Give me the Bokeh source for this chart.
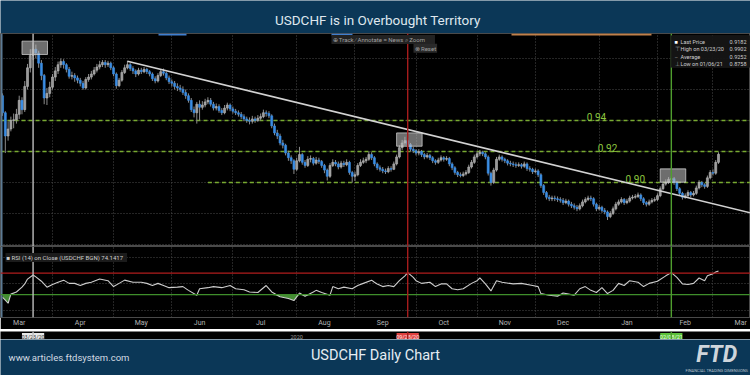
import numpy as np
import pandas as pd
from bokeh.plotting import figure
from bokeh.layouts import column
from bokeh.models import ColumnDataSource, FixedTicker, Grid, Span, Label, BoxAnnotation, Range1d
from bokeh.core.properties import value
from bokeh.embed import file_html
from bokeh.resources import INLINE

# ---------------- data ----------------
title_text = "USDCHF is in Overbought Territory"
footer_text = "USDCHF Daily Chart"
site_text = "www.articles.ftdsystem.com"
logo_text = "FTD"
logo_sub = "FINANCIAL TRADING DIMENSIONS"

start_date = "2020-03-06"
first_open = 0.9560
closes = [
    0.9450, 0.9300, 0.9345, 0.9400, 0.9405, 0.9440, 0.9530, 0.9470, 0.9620, 0.9740,
    0.9820, 0.9860, 0.9835, 0.9770, 0.9690, 0.9545, 0.9575, 0.9615, 0.9680, 0.9720,
    0.9760, 0.9780, 0.9760, 0.9730, 0.9685, 0.9690, 0.9675, 0.9660, 0.9640, 0.9610,
    0.9665, 0.9680, 0.9700, 0.9725, 0.9745, 0.9760, 0.9775, 0.9760, 0.9770, 0.9740,
    0.9700, 0.9625, 0.9660, 0.9710, 0.9740, 0.9760, 0.9735, 0.9720, 0.9700, 0.9725,
    0.9715, 0.9730, 0.9715, 0.9700, 0.9670, 0.9655, 0.9690, 0.9715, 0.9705, 0.9675,
    0.9650, 0.9640, 0.9620, 0.9610, 0.9600, 0.9580, 0.9560, 0.9530, 0.9470, 0.9450,
    0.9505, 0.9485, 0.9500, 0.9520, 0.9530, 0.9505, 0.9480, 0.9490, 0.9465, 0.9450,
    0.9480, 0.9500, 0.9475, 0.9460, 0.9450, 0.9440, 0.9425, 0.9410, 0.9400, 0.9395,
    0.9410, 0.9400, 0.9415, 0.9425, 0.9450, 0.9445, 0.9430, 0.9365, 0.9320, 0.9300,
    0.9255, 0.9240, 0.9190, 0.9160, 0.9140, 0.9085, 0.9140, 0.9180, 0.9130, 0.9110,
    0.9150, 0.9155, 0.9125, 0.9145, 0.9135, 0.9110, 0.9080, 0.9040, 0.9110, 0.9130,
    0.9120, 0.9100, 0.9125, 0.9115, 0.9130, 0.9065, 0.9040, 0.9050, 0.9110, 0.9130,
    0.9140, 0.9150, 0.9180, 0.9160, 0.9120, 0.9095, 0.9085, 0.9075, 0.9070, 0.9090,
    0.9085, 0.9120, 0.9165, 0.9225, 0.9255, 0.9270, 0.9245, 0.9215, 0.9205, 0.9190,
    0.9200, 0.9180, 0.9165, 0.9175, 0.9160, 0.9140, 0.9130, 0.9145, 0.9160, 0.9150,
    0.9155, 0.9120, 0.9095, 0.9065, 0.9050, 0.9045, 0.9055, 0.9065, 0.9100, 0.9130,
    0.9165, 0.9185, 0.9195, 0.9185, 0.9165, 0.9060, 0.9000, 0.9080, 0.9150, 0.9165,
    0.9150, 0.9140, 0.9125, 0.9120, 0.9115, 0.9110, 0.9115, 0.9105, 0.9120, 0.9090,
    0.9085, 0.9070, 0.9075, 0.9050, 0.8980, 0.8935, 0.8905, 0.8895, 0.8900, 0.8895,
    0.8890, 0.8885, 0.8870, 0.8880, 0.8860, 0.8850, 0.8840, 0.8830, 0.8850, 0.8875,
    0.8890, 0.8900, 0.8895, 0.8860, 0.8830, 0.8840, 0.8820, 0.8810, 0.8780, 0.8800,
    0.8830, 0.8860, 0.8875, 0.8890, 0.8870, 0.8880, 0.8900, 0.8905, 0.8910, 0.8920,
    0.8895, 0.8870, 0.8860, 0.8875, 0.8885, 0.8890, 0.8915, 0.8960, 0.8990, 0.9000,
    0.9020, 0.9025, 0.9000, 0.8960, 0.8930, 0.8905, 0.8915, 0.8935, 0.8920, 0.8930,
    0.8965, 0.9000, 0.8985, 0.8975, 0.9030, 0.9065, 0.9060, 0.9130, 0.9182,
]
highs = [
    0.9575, 0.9460, 0.9395, 0.9425, 0.9445, 0.9475, 0.9560, 0.9550, 0.9655, 0.9765,
    0.9860, 0.9902, 0.9890, 0.9850, 0.9790, 0.9700, 0.9610, 0.9650, 0.9700, 0.9745,
    0.9780, 0.9800, 0.9795, 0.9770, 0.9745, 0.9715, 0.9705, 0.9690, 0.9675, 0.9655,
    0.9680, 0.9700, 0.9720, 0.9745, 0.9765, 0.9785, 0.9790, 0.9790, 0.9785, 0.9780,
    0.9750, 0.9710, 0.9675, 0.9725, 0.9760, 0.9785, 0.9770, 0.9750, 0.9730, 0.9740,
    0.9740, 0.9745, 0.9740, 0.9725, 0.9710, 0.9685, 0.9705, 0.9730, 0.9735, 0.9715,
    0.9690, 0.9665, 0.9655, 0.9640, 0.9630, 0.9620, 0.9600, 0.9575, 0.9545, 0.9490,
    0.9520, 0.9530, 0.9525, 0.9540, 0.9550, 0.9545, 0.9520, 0.9510, 0.9505, 0.9480,
    0.9500, 0.9515, 0.9510, 0.9490, 0.9475, 0.9465, 0.9455, 0.9440, 0.9425, 0.9420,
    0.9430, 0.9425, 0.9435, 0.9445, 0.9470, 0.9465, 0.9460, 0.9440, 0.9380, 0.9340,
    0.9315, 0.9275, 0.9250, 0.9205, 0.9175, 0.9150, 0.9160, 0.9230, 0.9190, 0.9145,
    0.9170, 0.9175, 0.9165, 0.9165, 0.9160, 0.9145, 0.9120, 0.9090, 0.9125, 0.9150,
    0.9145, 0.9135, 0.9140, 0.9140, 0.9150, 0.9140, 0.9075, 0.9070, 0.9125, 0.9150,
    0.9160, 0.9165, 0.9200, 0.9195, 0.9170, 0.9130, 0.9110, 0.9100, 0.9090, 0.9105,
    0.9105, 0.9135, 0.9180, 0.9240, 0.9275, 0.9295, 0.9285, 0.9255, 0.9230, 0.9215,
    0.9215, 0.9210, 0.9190, 0.9190, 0.9185, 0.9170, 0.9150, 0.9160, 0.9175, 0.9170,
    0.9170, 0.9165, 0.9130, 0.9105, 0.9075, 0.9065, 0.9070, 0.9080, 0.9115, 0.9145,
    0.9180, 0.9200, 0.9210, 0.9205, 0.9195, 0.9175, 0.9070, 0.9095, 0.9165, 0.9180,
    0.9175, 0.9160, 0.9150, 0.9140, 0.9135, 0.9130, 0.9130, 0.9125, 0.9135, 0.9130,
    0.9105, 0.9095, 0.9090, 0.9085, 0.9060, 0.8990, 0.8945, 0.8920, 0.8915, 0.8915,
    0.8910, 0.8905, 0.8900, 0.8895, 0.8890, 0.8875, 0.8865, 0.8855, 0.8865, 0.8890,
    0.8905, 0.8915, 0.8915, 0.8905, 0.8870, 0.8855, 0.8850, 0.8835, 0.8820, 0.8815,
    0.8845, 0.8875, 0.8890, 0.8905, 0.8900, 0.8895, 0.8915, 0.8920, 0.8925, 0.8935,
    0.8930, 0.8905, 0.8880, 0.8890, 0.8900, 0.8905, 0.8930, 0.8975, 0.9005, 0.9020,
    0.9035, 0.9040, 0.9035, 0.9010, 0.8970, 0.8940, 0.8930, 0.8950, 0.8945, 0.8945,
    0.8980, 0.9015, 0.9010, 0.8995, 0.9045, 0.9080, 0.9085, 0.9145, 0.9195,
]
lows = [
    0.9430, 0.9190, 0.9270, 0.9330, 0.9350, 0.9380, 0.9410, 0.9440, 0.9455, 0.9600,
    0.9710, 0.9790, 0.9800, 0.9740, 0.9660, 0.9505, 0.9500, 0.9550, 0.9600, 0.9655,
    0.9700, 0.9740, 0.9735, 0.9710, 0.9670, 0.9665, 0.9650, 0.9640, 0.9620, 0.9598,
    0.9600, 0.9650, 0.9665, 0.9690, 0.9710, 0.9730, 0.9745, 0.9740, 0.9745, 0.9725,
    0.9685, 0.9605, 0.9615, 0.9650, 0.9700, 0.9730, 0.9720, 0.9700, 0.9680, 0.9690,
    0.9700, 0.9705, 0.9700, 0.9685, 0.9655, 0.9640, 0.9645, 0.9680, 0.9690, 0.9660,
    0.9635, 0.9620, 0.9600, 0.9590, 0.9585, 0.9565, 0.9540, 0.9515, 0.9455, 0.9420,
    0.9380, 0.9400, 0.9470, 0.9485, 0.9505, 0.9490, 0.9465, 0.9465, 0.9450, 0.9435,
    0.9440, 0.9465, 0.9460, 0.9445, 0.9435, 0.9425, 0.9410, 0.9395, 0.9385, 0.9375,
    0.9380, 0.9385, 0.9390, 0.9400, 0.9415, 0.9425, 0.9415, 0.9350, 0.9305, 0.9280,
    0.9240, 0.9220, 0.9175, 0.9140, 0.9120, 0.9055, 0.9075, 0.9130, 0.9115, 0.9095,
    0.9100, 0.9130, 0.9110, 0.9115, 0.9120, 0.9095, 0.9060, 0.9013, 0.9030, 0.9100,
    0.9105, 0.9085, 0.9090, 0.9100, 0.9105, 0.9050, 0.9000, 0.9010, 0.9040, 0.9100,
    0.9120, 0.9125, 0.9140, 0.9145, 0.9105, 0.9080, 0.9070, 0.9060, 0.9055, 0.9060,
    0.9070, 0.9080, 0.9110, 0.9155, 0.9210, 0.9240, 0.9230, 0.9200, 0.9190, 0.9175,
    0.9175, 0.9165, 0.9150, 0.9155, 0.9145, 0.9125, 0.9115, 0.9120, 0.9135, 0.9135,
    0.9140, 0.9105, 0.9080, 0.9050, 0.9035, 0.9033, 0.9035, 0.9045, 0.9055, 0.9090,
    0.9120, 0.9155, 0.9170, 0.9170, 0.9150, 0.9045, 0.8980, 0.8990, 0.9070, 0.9140,
    0.9135, 0.9125, 0.9110, 0.9105, 0.9100, 0.9095, 0.9100, 0.9090, 0.9095, 0.9075,
    0.9070, 0.9055, 0.9060, 0.9035, 0.8965, 0.8920, 0.8890, 0.8880, 0.8880, 0.8880,
    0.8875, 0.8870, 0.8855, 0.8860, 0.8845, 0.8835, 0.8825, 0.8815, 0.8820, 0.8840,
    0.8865, 0.8880, 0.8880, 0.8845, 0.8815, 0.8820, 0.8805, 0.8795, 0.8758, 0.8770,
    0.8790, 0.8820, 0.8850, 0.8865, 0.8855, 0.8860, 0.8870, 0.8890, 0.8895, 0.8900,
    0.8880, 0.8855, 0.8845, 0.8850, 0.8865, 0.8875, 0.8880, 0.8905, 0.8950, 0.8980,
    0.8990, 0.9005, 0.8985, 0.8945, 0.8915, 0.8890, 0.8895, 0.8905, 0.8905, 0.8910,
    0.8920, 0.8955, 0.8970, 0.8960, 0.8965, 0.9020, 0.9045, 0.9050, 0.9120,
]

# RSI(14) on close (trading-day index, value)
rsi_day = [
    0, 1, 2, 3, 5, 7, 8, 9, 11, 12,
    14, 16, 18, 20, 22, 24, 26, 28, 30, 32,
    35, 38, 40, 42, 44, 47, 50, 52, 54, 56,
    58, 60, 63, 65, 67, 70, 71, 74, 76, 79,
    82, 84, 87, 89, 92, 95, 97, 100, 103, 105,
    107, 109, 112, 113, 115, 118, 119, 121, 123, 126,
    128, 130, 133, 134, 135, 137, 139, 141, 143, 145,
    146, 148, 149, 151, 154, 156, 158, 160, 162, 164,
    166, 169, 171, 172, 174, 176, 178, 180, 184, 187,
    191, 193, 194, 197, 200, 202, 204, 206, 208, 210,
    212, 214, 216, 218, 220, 222, 224, 226, 229, 231,
    233, 236, 239, 241, 243, 245, 247, 249, 251, 253,
    254, 256, 257, 258,
]
rsi_val = [
    25, 20, 14, 31, 35, 44, 50, 59, 66.6, 63,
    55, 44, 49, 53, 57, 51, 51, 47, 51, 53,
    59, 56, 45, 51, 57, 53, 53, 51, 47, 51,
    47, 43, 44, 45, 38, 29, 41, 43, 45, 43,
    47, 41, 39, 35, 34, 47, 35, 26, 23, 19,
    33, 27, 35, 38, 34, 29, 45, 41, 44, 41,
    47, 51, 57, 53, 50, 45, 47, 45, 56, 65,
    71, 62, 56, 51, 53, 45, 50, 50, 41, 39,
    41, 51, 56, 61, 50, 37, 56, 53, 50, 51,
    47, 45, 32, 29, 27, 33, 31, 29, 41, 45,
    38, 34, 43, 32, 38, 51, 47, 56, 53, 45,
    51, 55, 65, 71, 62, 50, 49, 51, 61, 56,
    65, 69, 72, 74.14,
]
rsi_upper, rsi_lower = 70, 30
rsi_text = "RSI (14)   on Close (USDCHF BGN) 74.1417"

month_labels = ["Mar", "Apr", "May", "Jun", "Jul", "Aug", "Sep", "Oct", "Nov", "Dec", "Jan", "Feb", "Mar"]
year_label = "2020"
year_label_date = "2020-08-03"
price_grid = [0.86, 0.88, 0.90, 0.92, 0.94, 0.96, 0.98]
rsi_grid = [0, 50, 100]

level_values = [0.94, 0.92, 0.90]
level_labels = ["0.94", "0.92", "0.90"]
level_from = ["2020-03-06", "2020-03-06", "2020-06-18"]
level_label_date = ["2020-12-31", "2021-01-06", "2021-01-20"]

trend_from, trend_from_price = "2020-05-08", 0.9782
trend_to, trend_to_price = "2021-03-03", 0.8854

marker_dates = ["2020-03-23", "2020-09-28", "2021-02-08"]
marker_line_colors = ["#bdbdbd", "#a51c1c", "#4f9e2e"]
marker_tag_fill = ["#e8e8e8", "#e0413f", "#5cc23a"]
marker_tag_text = ["#333333", "#ffe0e0", "#eaffe4"]
box_mid_price = [0.9869, 0.9277, 0.9045]

stat_names = ["Last Price", "High on 03/23/20", "Average", "Low on 01/06/21"]
stat_values = ["0.9182", "0.9902", "0.9252", "0.8758"]
stat_icons = ["\u25a0", "\u22a4", "\u2013", "\u22a5"]

# ---------------- derived ----------------
W = 750
NAVY = "#0b3757"
FONT = "Roboto"

n = len(closes)
c = np.array(closes)
o = np.r_[first_open, c[:-1]]
hi = np.maximum(np.array(highs), np.maximum(o, c))
lo = np.minimum(np.array(lows), np.minimum(o, c))
idx = np.arange(n)
dates = pd.bdate_range(start_date, periods=n)
pos = {d.strftime("%Y-%m-%d"): i for i, d in enumerate(dates)}

all_days = pd.bdate_range("2020-03-02", "2021-03-31")
offset = all_days.get_loc(pd.Timestamp(start_date))
all_pos = np.arange(len(all_days)) - offset
is_first = np.r_[True, all_days.month[1:] != all_days.month[:-1]]
month_first = [int(v) for v in all_pos[is_first]]
month_mid = [m + 10 for m in month_first]

X0, X1 = -0.739, 269.53
Y1 = 0.99613
Y0 = Y1 - 213 / 1550.0
R0, R1 = -12.5, 119.6


def xr(px):  # reference pixel column -> trading-day position
    return (px - 2.05) / 2.775


def yr(py):  # reference pixel row -> price
    return 0.94 - (py - 120) / 1550.0


x_range = Range1d(X0, X1)


def hide_grids(fig):
    for g in fig.grid:
        g.visible = False


def blank(h, bg):
    f = figure(width=W, height=h, x_range=Range1d(0, 1), y_range=Range1d(0, 1),
               toolbar_location=None, output_backend="svg", x_axis_location=None,
               y_axis_location=None, min_border=0, background_fill_color=bg,
               border_fill_color=bg, outline_line_color=None)
    hide_grids(f)
    return f


# ---------------- header ----------------
head = blank(33, NAVY)
head.text(x=[0.503], y=[0.40], text=[title_text], text_align="center", text_baseline="middle",
          text_font=value(FONT), text_font_size="13.5px", text_color="#dfe7ee")

# ---------------- price panel ----------------
p = figure(width=W, height=213, x_range=x_range, y_range=Range1d(Y0, Y1),
           toolbar_location=None, output_backend="svg", x_axis_location=None,
           y_axis_location=None, min_border=0, background_fill_color="#000000",
           border_fill_color="#000000", outline_line_color="#4a4a4a")
hide_grids(p)
p.add_layout(Grid(dimension=0, ticker=FixedTicker(ticks=month_first), grid_line_color="#4a4a4a",
                  grid_line_dash="1 2", grid_line_width=1))
p.add_layout(Grid(dimension=1, ticker=FixedTicker(ticks=price_grid), grid_line_color="#4a4a4a",
                  grid_line_dash="1 2", grid_line_width=1))
p.add_layout(Span(location=xr(1), dimension="height", line_color="#5d7b94", line_width=2))

# small status bars along the top edge
for left_px, right_px, col in [(158, 186, "#3f7fd0"), (331, 352, "#3f7fd0"), (511, 651, "#c0804a")]:
    p.add_layout(BoxAnnotation(left=xr(left_px), right=xr(right_px), top=Y1, bottom=Y1 - 2 / 1550.0,
                               fill_color=col, fill_alpha=1.0, line_color=None))

# support / resistance levels
lv_x0 = [pos[d] if pos[d] > 0 else X0 for d in level_from]
p.segment(x0=lv_x0, x1=[X1] * 3, y0=level_values, y1=level_values, line_color="#78aa30",
          line_dash="4 3", line_width=1.6)
p.text(x=[pos[d] for d in level_label_date], y=level_values, text=level_labels,
       text_align="center", text_baseline="bottom",
       text_font=value(FONT), text_font_size="10px", text_color="#8cc63f")

# candles
up = c >= o
src = ColumnDataSource(dict(
    x=idx, top=np.maximum(o, c), bottom=np.minimum(o, c), hi=hi, lo=lo,
    fill=np.where(up, "#9a9a9a", "#3a8de4"), line=np.where(up, "#b8b8b8", "#3a8de4")))
p.segment(x0="x", y0="lo", x1="x", y1="hi", source=src, line_color="#8c8c8c", line_width=1)
p.vbar(x="x", width=0.72, top="top", bottom="bottom", fill_color="fill", line_color="line",
       line_width=0.6, source=src)

# trend line (extended to the right edge)
tx0, tx1 = pos[trend_from], pos[trend_to]
slope = (trend_to_price - trend_from_price) / (tx1 - tx0)
p.line([tx0, X1], [trend_from_price, trend_from_price + slope * (X1 - tx0)],
       line_color="#d2d2d2", line_width=1.6)

# highlight boxes + marker lines
mk_x = [pos[d] for d in marker_dates]
p.rect(x=[m + 0.6 for m in mk_x], y=box_mid_price, width=9.2, height=0.0086,
       fill_color="#b8b8b8", fill_alpha=0.6, line_color="#dcdcdc", line_alpha=0.7)
for m, col in zip(mk_x, marker_line_colors):
    p.add_layout(Span(location=m, dimension="height", line_color=col, line_width=1.4))

# stats box (top right)
p.add_layout(BoxAnnotation(left=xr(670), right=X1, top=yr(35), bottom=yr(67),
                           fill_color="#151515", fill_alpha=0.95, line_color="#2c2c2c"))
rows_y = [yr(41), yr(48.5), yr(56), yr(63.5)]
for k in range(4):
    p.add_layout(Label(x=xr(674), y=rows_y[k], text=stat_icons[k], text_font=FONT,
                       text_font_size="5.5px", text_baseline="middle",
                       text_color="#ffffff" if k == 0 else "#9a9a9a"))
    p.add_layout(Label(x=xr(680), y=rows_y[k], text=stat_names[k], text_font=FONT,
                       text_font_size="5.5px", text_baseline="middle", text_color="#cfcfcf"))
    p.add_layout(Label(x=xr(746), y=rows_y[k], text=stat_values[k], text_font=FONT,
                       text_font_size="5.5px", text_baseline="middle", text_align="right",
                       text_color="#cfcfcf"))

# toolbar imitation
p.add_layout(Label(x=xr(331), y=yr(39), text="\u2295 Track   \u2215 Annotate   \u2261 News   \u2315 Zoom",
                   text_font=FONT, text_font_size="6px", text_baseline="middle",
                   text_color="#a0a0a0", background_fill_color="#222222", padding=1))
p.add_layout(Label(x=xr(413), y=yr(47.7), text="\u2297 Reset", text_font=FONT,
                   text_font_size="6px", text_baseline="middle", text_color="#a0a0a0",
                   background_fill_color="#2a2a2a", padding=1))

# ---------------- RSI panel ----------------
r = figure(width=W, height=83, x_range=x_range, y_range=Range1d(R0, R1),
           toolbar_location=None, output_backend="svg", y_axis_location=None,
           min_border=0, min_border_bottom=9, background_fill_color="#000000",
           border_fill_color="#000000", outline_line_color="#4a4a4a")
hide_grids(r)
r.xaxis.ticker = FixedTicker(ticks=month_mid)
r.xaxis.major_label_overrides = {m: lab for m, lab in zip(month_mid, month_labels)}
r.xaxis.axis_line_color = None
r.xaxis.major_tick_line_color = None
r.xaxis.minor_tick_line_color = None
r.xaxis.major_tick_out = 0
r.xaxis.major_tick_in = 0
r.xaxis.minor_tick_out = 0
r.xaxis.major_label_standoff = 1
r.xaxis.major_label_text_color = "#b4b4b4"
r.xaxis.major_label_text_font = FONT
r.xaxis.major_label_text_font_size = "7px"
r.add_layout(Grid(dimension=0, ticker=FixedTicker(ticks=month_first), grid_line_color="#4a4a4a",
                  grid_line_dash="1 2"))
r.add_layout(Grid(dimension=1, ticker=FixedTicker(ticks=rsi_grid), grid_line_color="#4a4a4a",
                  grid_line_dash="1 2"))
r.add_layout(Span(location=xr(1), dimension="height", line_color="#5d7b94", line_width=2))
r.add_layout(Span(location=rsi_upper, dimension="width", line_color="#b01d1d", line_width=1.4))
r.add_layout(Span(location=rsi_lower, dimension="width", line_color="#3f8e2b", line_width=1.4))
rv = np.array(rsi_val, dtype=float)
r.varea(x=rsi_day, y1=np.minimum(rv, rsi_lower), y2=[rsi_lower] * len(rv),
        fill_color="#4e9b3b", fill_alpha=0.9)
r.line(rsi_day, rv, line_color="#cdcdcd", line_width=1.1)
for m, col in zip(mk_x, marker_line_colors):
    r.add_layout(Span(location=m, dimension="height", line_color=col, line_width=1.4))
r.add_layout(Label(x=xr(5), y=99, text="\u25a0 " + rsi_text, text_font=FONT,
                   text_font_size="6px", text_baseline="middle", text_color="#cfcfcf",
                   background_fill_color="#1b1b1b", padding=1))

# ---------------- date tag strip ----------------
strip = figure(width=W, height=10, x_range=x_range, y_range=Range1d(0, 1),
               toolbar_location=None, output_backend="svg", x_axis_location=None,
               y_axis_location=None, min_border=0, background_fill_color="#000000",
               border_fill_color="#000000", outline_line_color=None)
hide_grids(strip)
for m, col in zip(mk_x, marker_line_colors):
    strip.add_layout(Span(location=m, dimension="height", line_color=col, line_width=1.4))
strip.rect(x=mk_x, y=[0.45] * 3, width=8.0, height=0.8, fill_color=marker_tag_fill,
           line_color=None)
strip.text(x=mk_x, y=[0.45] * 3, text=[pd.Timestamp(d).strftime("%m/%d/%y") for d in marker_dates],
           text_align="center", text_baseline="middle", text_font=value(FONT),
           text_font_size="5.5px", text_color=marker_tag_text)
strip.text(x=[pos[year_label_date]], y=[0.45], text=[year_label], text_align="center",
           text_baseline="middle", text_font=value(FONT), text_font_size="5.5px",
           text_color="#9a9a9a")

# ---------------- footer ----------------
foot = blank(36, NAVY)
foot.text(x=[0.0], y=[0.50], x_offset=8, text=[site_text], text_align="left",
          text_baseline="middle", text_font=value(FONT), text_font_size="9.5px",
          text_color="#d3dbe3")
foot.text(x=[0.5], y=[0.56], text=[footer_text], text_align="center", text_baseline="middle",
          text_font=value(FONT), text_font_size="14.5px", text_color="#e6edf3")
foot.text(x=[0.955], y=[0.57], text=[logo_text], text_align="center", text_baseline="middle",
          text_font=value(FONT), text_font_style="bold italic", text_font_size="23px",
          text_color="#cfd5db")
foot.text(x=[0.955], y=[0.13], text=[logo_sub], text_align="center", text_baseline="middle",
          text_font=value(FONT), text_font_size="4px", text_color="#b8c2cc")

layout = column(head, p, r, strip, foot, spacing=0)
open("out.html", "w").write(file_html(layout, INLINE))
